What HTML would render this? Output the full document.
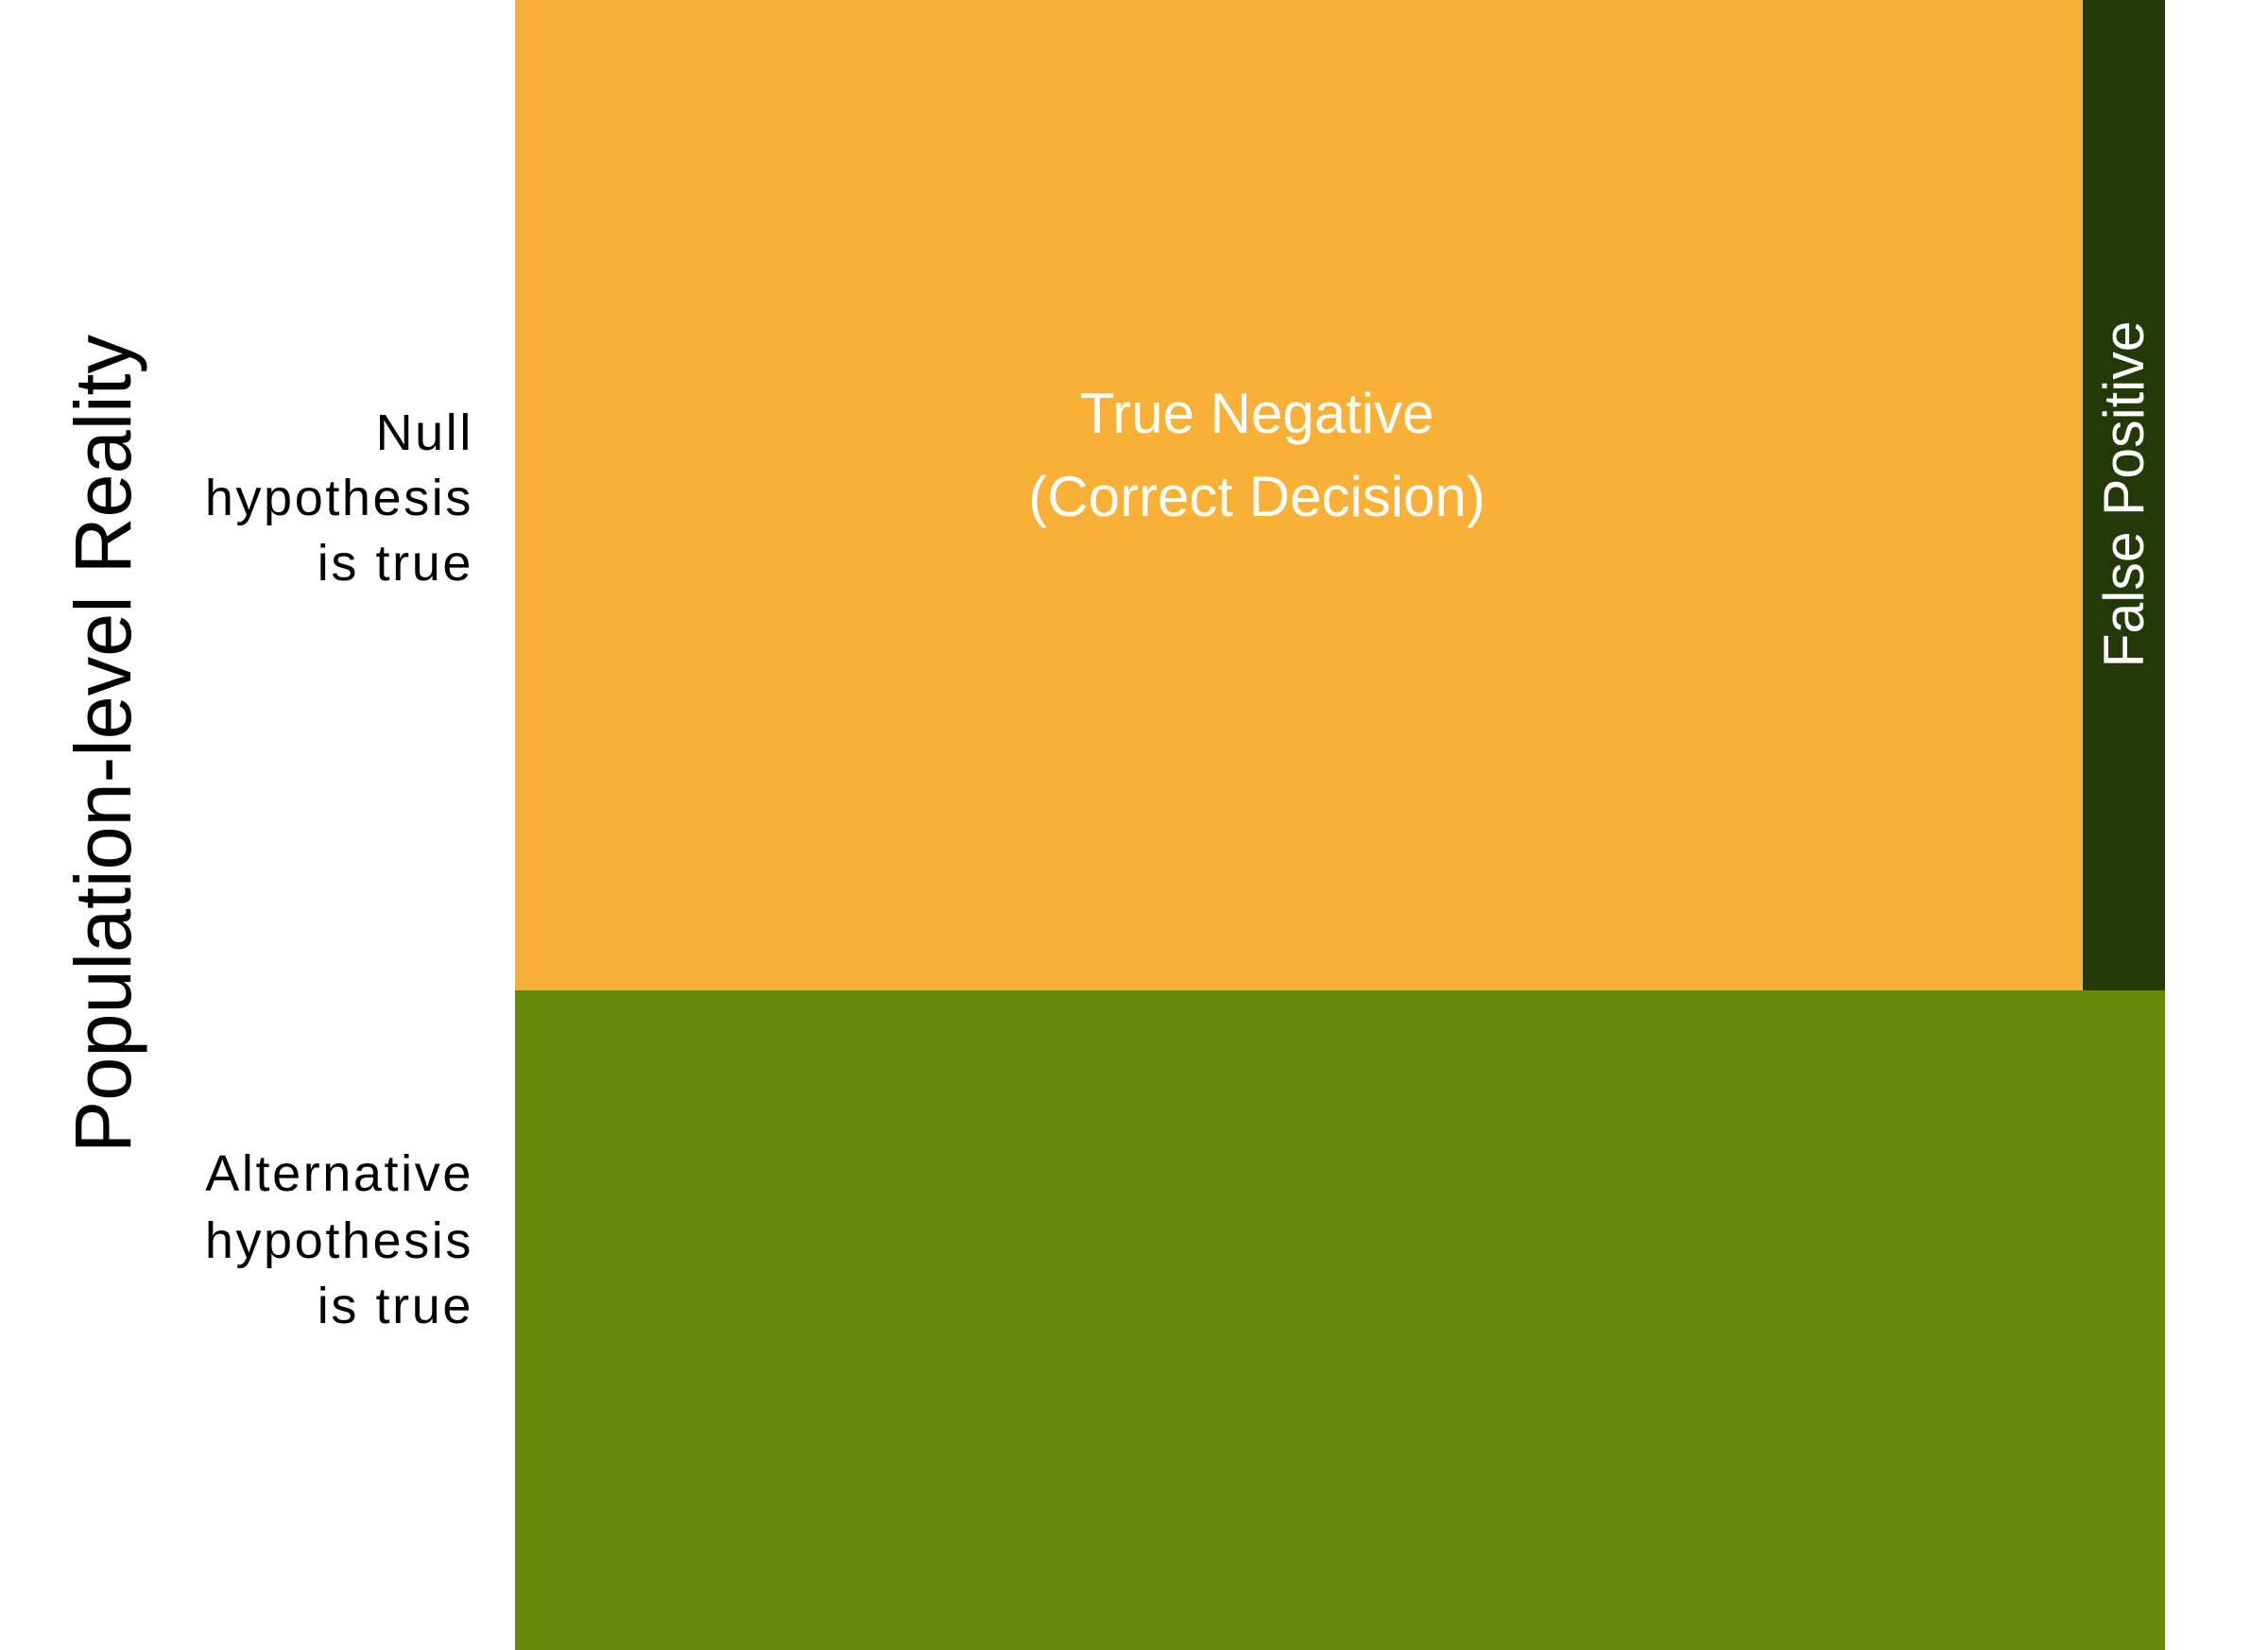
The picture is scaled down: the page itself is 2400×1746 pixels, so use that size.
<!DOCTYPE html>
<html>
<head>
<meta charset="utf-8">
<style>
html,body{margin:0;padding:0;background:#fff;}
svg{display:block;}
text{font-family:"Liberation Sans",Arial,sans-serif;}
</style>
</head>
<body>
<svg width="2400" height="1746" viewBox="0 0 2400 1746" xmlns="http://www.w3.org/2000/svg">
  <rect x="0" y="0" width="2400" height="1746" fill="#ffffff"/>
  <rect x="545" y="0" width="1659" height="1048" fill="#F9B036"/>
  <rect x="2204" y="0" width="87" height="1048" fill="#233908"/>
  <rect x="545" y="1048" width="1746" height="698" fill="#678807"/>

  <text x="1330" y="458" font-size="60" fill="#ffffff" text-anchor="middle">True Negative</text>
  <text x="1330" y="546" font-size="60" fill="#ffffff" text-anchor="middle">(Correct Decision)</text>

  <text transform="translate(2268,523) rotate(-90)" font-size="60" fill="#ffffff" text-anchor="middle" textLength="367" lengthAdjust="spacingAndGlyphs">False Positive</text>

  <text transform="translate(138,787) rotate(-90)" font-size="84" fill="#000000" text-anchor="middle" textLength="866" lengthAdjust="spacingAndGlyphs">Population-level Reality</text>

  <g font-size="54" fill="#000000" text-anchor="end" letter-spacing="2.6">
    <text x="501" y="476">Null</text>
    <text x="501" y="545">hypothesis</text>
    <text x="501" y="614">is true</text>
    <text x="501" y="1260">Alternative</text>
    <text x="501" y="1331">hypothesis</text>
    <text x="501" y="1400">is true</text>
  </g>
</svg>
</body>
</html>
